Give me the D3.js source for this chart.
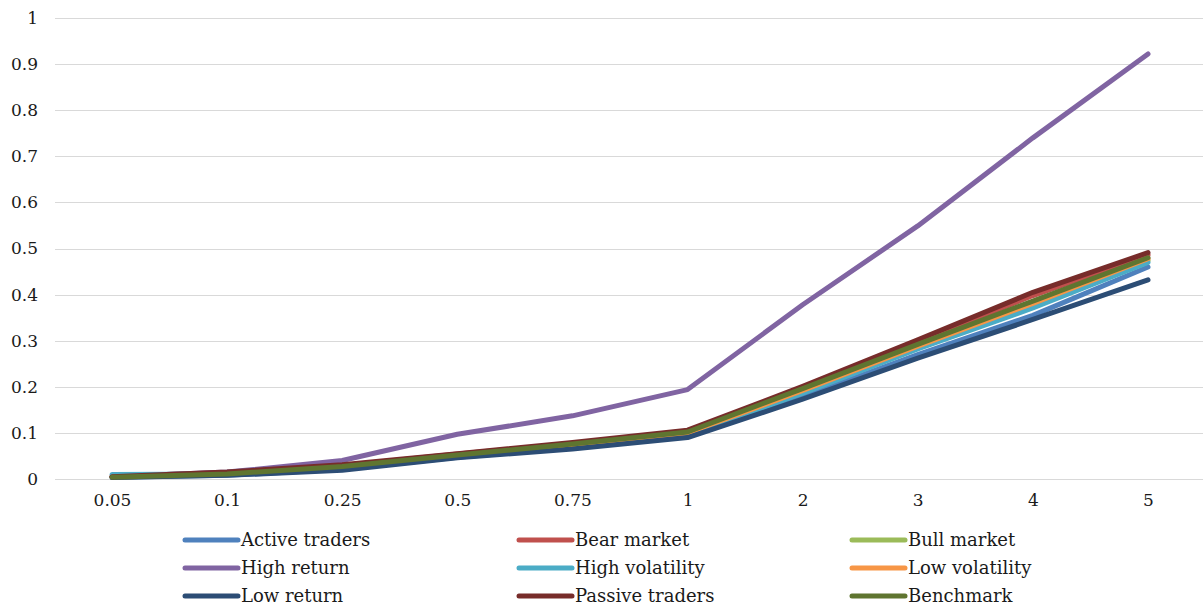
<!DOCTYPE html>
<html>
<head>
<meta charset="utf-8">
<script src="https://cdn.jsdelivr.net/npm/d3@7"></script>
<style>
  html, body { margin: 0; padding: 0; background: #fff; }
  svg text { font-family: "DejaVu Serif", "Liberation Serif", serif; fill: #1a1a1a; }
</style>
</head>
<body>
<svg id="chart" width="1203" height="608"></svg>
<script>
// Horizon categories (x axis)
const categories = ["0.05", "0.1", "0.25", "0.5", "0.75", "1", "2", "3", "4", "5"];

// Series values per horizon
const activeTraders   = [0.004, 0.008, 0.021, 0.047, 0.067, 0.092, 0.178, 0.270, 0.355, 0.460];
const bearMarket      = [0.006, 0.014, 0.029, 0.054, 0.077, 0.104, 0.198, 0.297, 0.398, 0.486];
const bullMarket      = [0.004, 0.010, 0.025, 0.050, 0.073, 0.100, 0.190, 0.285, 0.376, 0.474];
const highReturn      = [0.005, 0.015, 0.040, 0.097, 0.137, 0.194, 0.378, 0.549, 0.740, 0.922];
const highVolatility  = [0.010, 0.011, 0.024, 0.049, 0.071, 0.097, 0.186, 0.282, 0.371, 0.470];
const lowVolatility   = [0.004, 0.011, 0.026, 0.051, 0.074, 0.100, 0.192, 0.288, 0.381, 0.478];
const lowReturn       = [0.003, 0.008, 0.019, 0.046, 0.065, 0.090, 0.173, 0.262, 0.346, 0.432];
const passiveTraders  = [0.005, 0.015, 0.031, 0.055, 0.079, 0.106, 0.201, 0.302, 0.405, 0.491];
const benchmark       = [0.004, 0.011, 0.027, 0.052, 0.076, 0.102, 0.196, 0.292, 0.386, 0.480];

// Y axis tick labels
const yTicks = [0, 0.1, 0.2, 0.3, 0.4, 0.5, 0.6, 0.7, 0.8, 0.9, 1];

const seriesNames = ["Active traders", "Bear market", "Bull market", "High return", "High volatility",
                     "Low volatility", "Low return", "Passive traders", "Benchmark"];
const seriesValues = [activeTraders, bearMarket, bullMarket, highReturn, highVolatility,
                      lowVolatility, lowReturn, passiveTraders, benchmark];
const seriesColors = ["#4F81BD", "#C0504D", "#9BBB59", "#8064A2", "#4BACC6",
                      "#F79646", "#2C4D75", "#772C2A", "#5F7530"];

const series = seriesNames.map((name, i) => ({ name, values: seriesValues[i], color: seriesColors[i] }));

const svg = d3.select("#chart");

const x = d3.scalePoint().domain(categories).range([112, 1148]);
const y = d3.scaleLinear().domain([0, 1]).range([479, 18]);

// Horizontal gridlines
svg.append("g")
  .selectAll("line")
  .data(yTicks)
  .join("line")
  .attr("x1", 55).attr("x2", 1203)
  .attr("y1", d => Math.round(y(d)) + 0.5)
  .attr("y2", d => Math.round(y(d)) + 0.5)
  .attr("stroke", "#d9d9d9")
  .attr("stroke-width", 1);

// Y axis labels
const yAxis = d3.axisLeft(y).tickValues(yTicks).tickSize(0).tickPadding(0)
  .tickFormat(d => d3.format("~g")(d));
svg.append("g")
  .attr("transform", "translate(38,0)")
  .call(yAxis)
  .call(g => g.select(".domain").remove())
  .call(g => g.selectAll("text")
    .attr("font-size", 17)
    .attr("font-family", "DejaVu Serif, serif")
    .attr("fill", "#1a1a1a"));

// X axis labels
const xAxis = d3.axisBottom(x).tickSize(0).tickPadding(0);
svg.append("g")
  .attr("transform", "translate(0,494)")
  .call(xAxis)
  .call(g => g.select(".domain").remove())
  .call(g => g.selectAll("text")
    .attr("font-size", 17)
    .attr("font-family", "DejaVu Serif, serif")
    .attr("fill", "#1a1a1a"));

// Lines
const line = d3.line()
  .x((d, i) => x(categories[i]))
  .y(d => y(d));

svg.append("g")
  .selectAll("path")
  .data(series)
  .join("path")
  .attr("d", d => line(d.values))
  .attr("fill", "none")
  .attr("stroke", d => d.color)
  .attr("stroke-width", 5)
  .attr("stroke-linecap", "round")
  .attr("stroke-linejoin", "round");

// Legend: 3 columns x 3 rows
const colX = [183, 517, 850];
const rowY = [540, 568, 596];
const legend = svg.append("g")
  .selectAll("g")
  .data(series)
  .join("g")
  .attr("transform", (d, i) => `translate(${colX[i % 3]},${rowY[Math.floor(i / 3)]})`);

legend.append("line")
  .attr("x1", 2).attr("x2", 55)
  .attr("y1", 0).attr("y2", 0)
  .attr("stroke", d => d.color)
  .attr("stroke-width", 5)
  .attr("stroke-linecap", "round");

legend.append("text")
  .attr("x", 58)
  .attr("y", 0)
  .attr("dy", "0.35em")
  .attr("font-size", 18)
  .text(d => d.name);
</script>
</body>
</html>
